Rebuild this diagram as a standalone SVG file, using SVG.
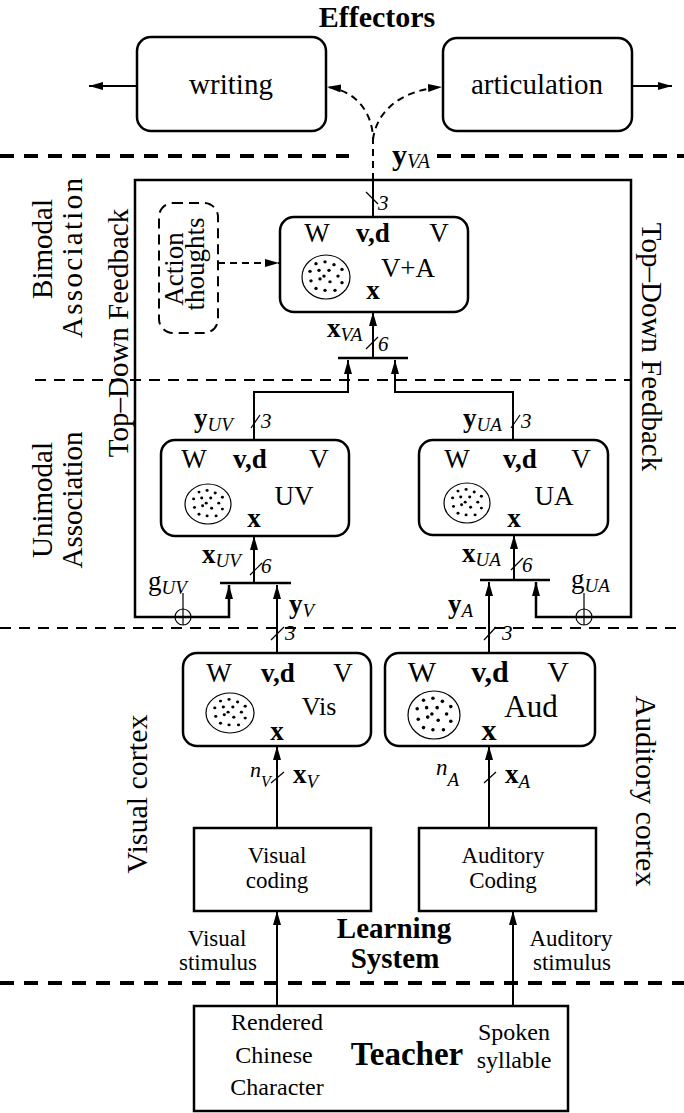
<svg xmlns="http://www.w3.org/2000/svg" xmlns:xlink="http://www.w3.org/1999/xlink" width="684" height="1113" viewBox="0 0 684 1113">
<style>
.box{fill:#fff;stroke:#000;stroke-width:2.5}
.ob{fill:none;stroke:#000;stroke-width:2.5}
.ln{fill:none;stroke:#000;stroke-width:2}
.dl{fill:none;stroke:#000;stroke-width:2;stroke-dasharray:7 5}
.thin{fill:none;stroke:#000;stroke-width:1.2}
.sep{fill:none;stroke:#000;stroke-width:4;stroke-dasharray:14 10}
.sep2{fill:none;stroke:#000;stroke-width:2;stroke-dasharray:11 8}
.bar{stroke:#000;stroke-width:2.5}
text{font-family:"Liberation Serif","Times New Roman",serif;fill:#000}
.b{font-weight:bold}
.i{font-style:italic}
.m{text-anchor:middle}
.f27{font-size:27px}
.f24{font-size:24px}
.f23{font-size:23px}
.n{font-size:21px;font-style:italic}
.s{font-size:19px;font-style:italic}
</style>
<defs>
<marker id="ah" viewBox="0 0 14 8" refX="14" refY="4" markerWidth="14" markerHeight="8" markerUnits="userSpaceOnUse" orient="auto-start-reverse">
<path d="M0,0 L14,4 L0,8 z" fill="#000"/>
</marker>
<g id="dots" fill="#000">
<circle cx="-10" cy="-14" r="1.7"/><circle cx="-1" cy="-16" r="1.7"/><circle cx="8" cy="-13" r="1.7"/><circle cx="16" cy="-8" r="1.7"/>
<circle cx="-16" cy="-6" r="1.7"/><circle cx="-7" cy="-7" r="1.7"/><circle cx="3" cy="-7" r="1.7"/><circle cx="12" cy="-1" r="1.7"/>
<circle cx="-15" cy="4" r="1.7"/><circle cx="-6" cy="2" r="1.7"/><circle cx="4" cy="5" r="1.7"/><circle cx="16" cy="6" r="1.7"/>
<circle cx="-10" cy="12" r="1.7"/><circle cx="-1" cy="14" r="1.7"/><circle cx="9" cy="14" r="1.7"/><circle cx="-2" cy="-1" r="1.7"/>
</g>
</defs>
<rect width="684" height="1113" fill="#fff"/>

<g id="separators">
<path class="sep" d="M0,156 H349 M437,156 H684"/>
<path class="sep2" d="M35,380 H631"/>
<path class="sep2" d="M0,628 H684"/>
<path class="sep" d="M0,983 H684"/>
</g>

<g id="labels">
<text class="b m" x="377" y="27" font-size="30">Effectors</text>
<text transform="translate(52,249) rotate(-90)" class="m" font-size="29">Bimodal</text>
<text transform="translate(82,258) rotate(-90)" class="m" font-size="29" textLength="160" lengthAdjust="spacing">Association</text>
<text transform="translate(128,333) rotate(-90)" class="m" font-size="29">Top–Down Feedback</text>
<text transform="translate(642,347) rotate(90)" class="m" font-size="29">Top–Down Feedback</text>
<text transform="translate(52,500) rotate(-90)" class="m" font-size="29">Unimodal</text>
<text transform="translate(82,500) rotate(-90)" class="m" font-size="29">Association</text>
<text transform="translate(147,794) rotate(-90)" class="m" font-size="30">Visual cortex</text>
<text transform="translate(636,791) rotate(90)" class="m" font-size="30">Auditory cortex</text>
<text class="b m" x="394" y="938" font-size="29">Learning</text>
<text class="b m" x="395" y="968" font-size="29">System</text>
<text class="m f23" x="217" y="946">Visual</text>
<text class="m f23" x="218" y="970">stimulus</text>
<text class="m f23" x="571" y="946">Auditory</text>
<text class="m f23" x="572" y="970">stimulus</text>
</g>

<g id="connectors">
<path class="ln" d="M137,86 H89" marker-end="url(#ah)"/>
<path class="ln" d="M632,86 H672" marker-end="url(#ah)"/>
<path class="dl" d="M373,180 V140 C373,112 355,90 327,87" marker-end="url(#ah)"/>
<path class="dl" d="M373,140 C376,112 400,90 442,87" marker-end="url(#ah)"/>
<path class="ln" d="M373,217 V179"/>
<path class="thin" d="M366,192 L378,204"/>
<text class="n" x="378" y="210">3</text>
<text x="392" y="165"><tspan class="b" font-size="30">y</tspan><tspan class="i" font-size="20" dy="3">VA</tspan></text>

<path class="dl" d="M218,263 H279" marker-end="url(#ah)"/>

<path class="ob" d="M229,585 V617 H135 V180 H631 V617 H536 V582" marker-start="url(#ah)" marker-end="url(#ah)"/>
<circle cx="183" cy="617" r="8" fill="none" stroke="#000" stroke-width="1.2"/>
<path class="thin" d="M183,593 V625"/>
<circle cx="584" cy="617" r="8" fill="none" stroke="#000" stroke-width="1.2"/>
<path class="thin" d="M584,593 V625"/>
<text x="148" y="590"><tspan font-size="27">g</tspan><tspan class="s" dy="4">UV</tspan></text>
<text x="571" y="588"><tspan font-size="27">g</tspan><tspan class="s" dy="4">UA</tspan></text>

<line class="bar" x1="338" y1="358" x2="408" y2="358"/>
<path class="ln" d="M373,358 V312" marker-end="url(#ah)"/>
<path class="thin" d="M366,349 L378,337"/>
<text class="n" x="378" y="351">6</text>
<text x="327" y="337"><tspan class="b f27">x</tspan><tspan class="s" dy="4">VA</tspan></text>
<path class="ln" d="M254,440 V392 H348 V360" marker-end="url(#ah)"/>
<path class="ln" d="M513,440 V392 H395 V360" marker-end="url(#ah)"/>
<path class="thin" d="M251,428 L260,415"/>
<text class="n" x="261" y="428">3</text>
<text x="194" y="427"><tspan class="b f27">y</tspan><tspan class="s" dy="4">UV</tspan></text>
<path class="thin" d="M511,428 L520,415"/>
<text class="n" x="521" y="428">3</text>
<text x="463" y="427"><tspan class="b f27">y</tspan><tspan class="s" dy="4">UA</tspan></text>

<line class="bar" x1="220" y1="583" x2="291" y2="583"/>
<path class="ln" d="M254,583 V536" marker-end="url(#ah)"/>
<path class="thin" d="M250,575 L262,563"/>
<text class="n" x="261" y="573">6</text>
<text x="202" y="563"><tspan class="b f27">x</tspan><tspan class="s" dy="4">UV</tspan></text>
<path class="ln" d="M277,653 V585" marker-end="url(#ah)"/>
<text x="289" y="613"><tspan class="b f27">y</tspan><tspan class="s" dy="4">V</tspan></text>
<path class="thin" d="M271,640 L284,627"/>
<text class="n" x="285" y="640">3</text>

<line class="bar" x1="480" y1="580" x2="550" y2="580"/>
<path class="ln" d="M514,580 V535" marker-end="url(#ah)"/>
<path class="thin" d="M511,570 L523,558"/>
<text class="n" x="522" y="572">6</text>
<text x="462" y="562"><tspan class="b f27">x</tspan><tspan class="s" dy="4">UA</tspan></text>
<path class="ln" d="M489,653 V582" marker-end="url(#ah)"/>
<text x="448" y="613"><tspan class="b f27">y</tspan><tspan class="s" dy="4">A</tspan></text>
<path class="thin" d="M484,640 L496,627"/>
<text class="n" x="502" y="640">3</text>

<path class="ln" d="M277,828 V746" marker-end="url(#ah)"/>
<path class="thin" d="M271,783 L284,772"/>
<text x="250" y="777"><tspan class="i" font-size="22">n</tspan><tspan class="i" font-size="16" dy="10">V</tspan></text>
<text x="293" y="783"><tspan class="b f27">x</tspan><tspan class="s" dy="5">V</tspan></text>
<path class="ln" d="M489,828 V746" marker-end="url(#ah)"/>
<path class="thin" d="M484,783 L496,772"/>
<text x="436" y="775"><tspan class="i" font-size="23">n</tspan><tspan class="i" font-size="19" dy="11">A</tspan></text>
<text x="505" y="783"><tspan class="b f27">x</tspan><tspan class="s" dy="5">A</tspan></text>

<path class="ln" d="M277,1006 V911" marker-end="url(#ah)"/>
<path class="ln" d="M513,1006 V911" marker-end="url(#ah)"/>
</g>

<g id="writing">
<rect class="box" x="137" y="37" width="189" height="94" rx="14"/>
<text class="m" x="231" y="94" font-size="29">writing</text>
</g>
<g id="articulation">
<rect class="box" x="443" y="38" width="189" height="93" rx="14"/>
<text class="m" x="537" y="94" font-size="29">articulation</text>
</g>

<g id="action-thoughts">
<rect x="159" y="203" width="59" height="130" rx="14" fill="none" stroke="#000" stroke-width="2" stroke-dasharray="10 6"/>
<text transform="translate(183,269) rotate(-90)" class="m" font-size="27">Action</text>
<text transform="translate(204,264) rotate(-90)" class="m" font-size="27">thoughts</text>
</g>

<g id="VA">
<rect class="box" x="280" y="217" width="188" height="95" rx="14"/>
<text class="m f27" x="317" y="242">W</text>
<text class="m f27 b" x="373" y="242">v,d</text>
<text class="m f27" x="439" y="242">V</text>
<ellipse cx="326" cy="277" rx="24" ry="22" fill="none" stroke="#000" stroke-width="1.2"/>
<use xlink:href="#dots" transform="translate(326,277) scale(1,0.95)"/>
<text class="m f27" x="408" y="277">V+A</text>
<text class="m f27 b" x="373" y="299">x</text>
</g>

<g id="UV">
<rect class="box" x="161" y="440" width="188" height="96" rx="14"/>
<text class="m f27" x="194" y="468">W</text>
<text class="m f27 b" x="250" y="468">v,d</text>
<text class="m f27" x="319" y="468">V</text>
<ellipse cx="208" cy="504" rx="23" ry="20" fill="none" stroke="#000" stroke-width="1.2"/>
<use xlink:href="#dots" transform="translate(208,504) scale(0.9,0.85)"/>
<text class="m f27" x="294" y="505">UV</text>
<text class="m f27 b" x="254" y="527">x</text>
</g>

<g id="UA">
<rect class="box" x="419" y="440" width="189" height="95" rx="14"/>
<text class="m f27" x="457" y="468">W</text>
<text class="m f27 b" x="520" y="468">v,d</text>
<text class="m f27" x="581" y="468">V</text>
<ellipse cx="467" cy="503" rx="23" ry="20" fill="none" stroke="#000" stroke-width="1.2"/>
<use xlink:href="#dots" transform="translate(467,503) scale(0.9,0.85)"/>
<text class="m f27" x="554" y="505">UA</text>
<text class="m f27 b" x="514" y="527">x</text>
</g>

<g id="Vis">
<rect class="box" x="183" y="653" width="188" height="93" rx="14"/>
<text class="m f27" x="219" y="682">W</text>
<text class="m f27 b" x="278" y="682">v,d</text>
<text class="m f27" x="343" y="682">V</text>
<ellipse cx="230" cy="713" rx="24" ry="20" fill="none" stroke="#000" stroke-width="1.2"/>
<use xlink:href="#dots" transform="translate(230,713) scale(0.95,0.85)"/>
<text class="m" x="319" y="715" font-size="26">Vis</text>
<text class="m f27 b" x="277" y="740">x</text>
</g>

<g id="Aud">
<rect class="box" x="385" y="653" width="210" height="93" rx="14"/>
<text class="m" x="422" y="682" font-size="30">W</text>
<text class="m b" x="490" y="682" font-size="30">v,d</text>
<text class="m" x="558" y="682" font-size="30">V</text>
<ellipse cx="434" cy="715" rx="26" ry="24" fill="none" stroke="#000" stroke-width="1.2"/>
<use xlink:href="#dots" transform="translate(434,715) scale(1.05,1.05)"/>
<text class="m" x="531" y="717" font-size="31">Aud</text>
<text class="m b" x="489" y="740" font-size="30">x</text>
</g>

<g id="visual-coding">
<rect class="box" x="194" y="828" width="177" height="83"/>
<text class="m f23" x="277" y="863">Visual</text>
<text class="m f23" x="277" y="888">coding</text>
</g>

<g id="auditory-coding">
<rect class="box" x="419" y="828" width="177" height="83"/>
<text class="m f23" x="503" y="863">Auditory</text>
<text class="m f23" x="503" y="888">Coding</text>
</g>

<g id="teacher">
<rect class="box" x="194" y="1006" width="374" height="105"/>
<text class="m f24" x="277" y="1030">Rendered</text>
<text class="m f24" x="274" y="1063">Chinese</text>
<text class="m f24" x="277" y="1095">Character</text>
<text class="m b" x="407" y="1065" font-size="33">Teacher</text>
<text class="m f24" x="514" y="1040">Spoken</text>
<text class="m f24" x="514" y="1068">syllable</text>
</g>
</svg>
